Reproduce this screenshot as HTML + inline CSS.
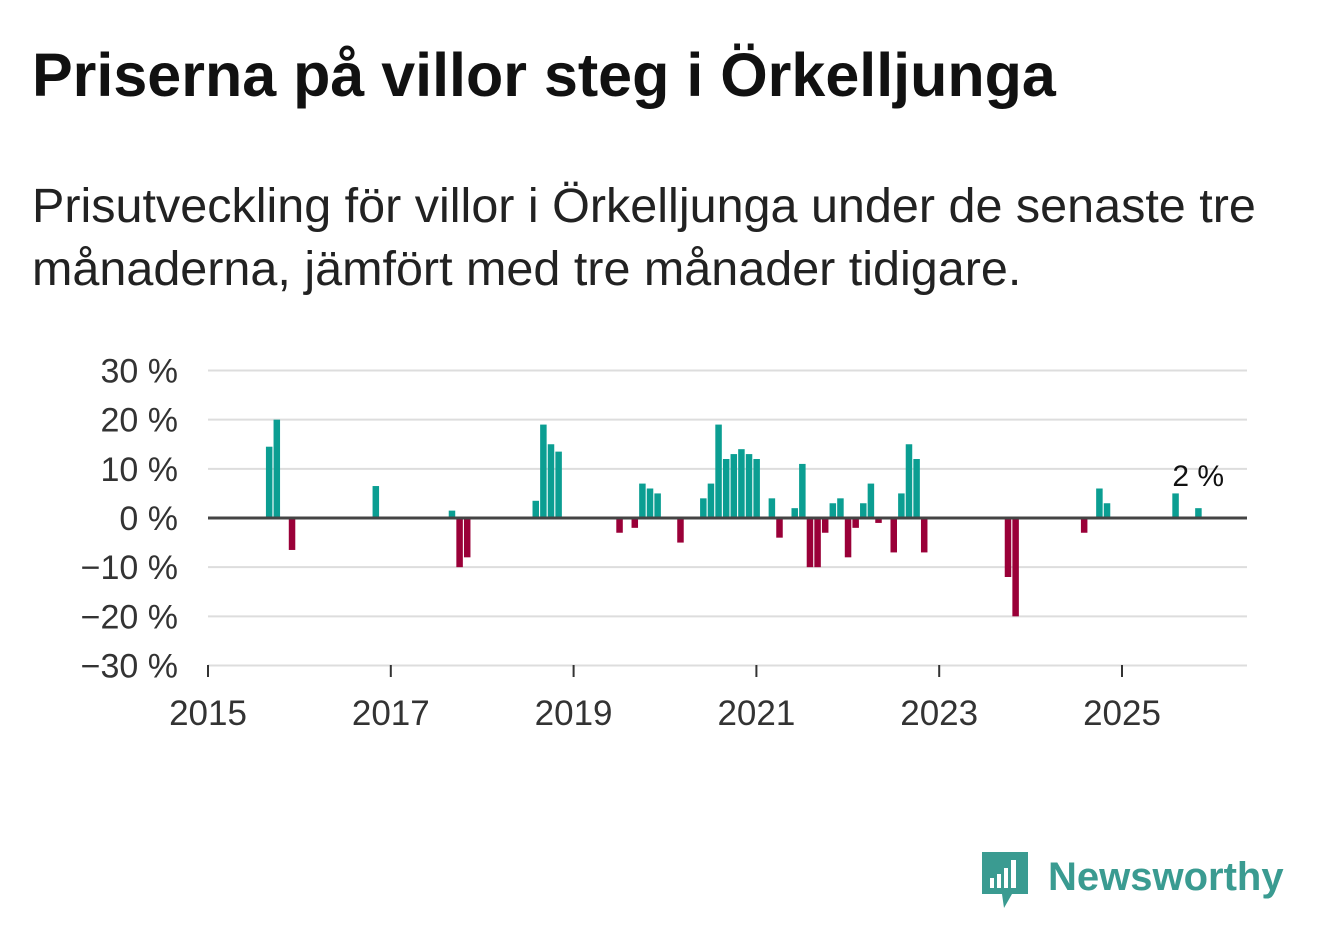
<!DOCTYPE html>
<html><head><meta charset="utf-8"><style>
body{margin:0;width:1322px;height:939px;background:#fff;font-family:"Liberation Sans",sans-serif;overflow:hidden;position:relative}
h1{position:absolute;left:32px;top:40px;margin:0;font-size:61px;font-weight:bold;color:#111;white-space:nowrap}
p{position:absolute;left:32px;top:175px;margin:0;font-size:48.5px;line-height:63px;color:#222;width:1290px;white-space:nowrap}
svg{position:absolute;left:0;top:0}
</style></head><body>
<h1>Priserna på villor steg i Örkelljunga</h1>
<p>Prisutveckling för villor i Örkelljunga under de senaste tre<br>månaderna, jämfört med tre månader tidigare.</p>
<svg id="c" width="1322" height="939"></svg>
<div style="position:absolute;left:982px;top:850px;display:flex;align-items:center">
<svg width="48" height="60" style="position:static"><path d="M0 2h46v42H30l-8 14-2-14H0z" fill="#3a9b91"/><rect x="8" y="28" width="4" height="10" fill="#fff"/><rect x="15" y="24" width="4" height="14" fill="#fff"/><rect x="22" y="18" width="4" height="20" fill="#fff"/><rect x="29" y="10" width="5" height="28" fill="#fff"/></svg>
<span style="font-size:40px;font-weight:bold;color:#3a9b91;margin-left:18px;margin-top:-6px">Newsworthy</span></div>
<script>
const months=[8,9,11,22,32,33,34,43,44,45,46,54,56,57,58,59,62,65,66,67,68,69,70,71,72,74,75,77,78,79,80,81,82,83,84,85,86,87,88,90,91,92,93,94,105,106,115,117,118,127,130];
const values=[14.5,20,-6.5,6.5,1.5,-10,-8,3.5,19,15,13.5,-3,-2,7,6,5,-5,4,7,19,12,13,14,13,12,4,-4,2,11,-10,-10,-3,3,4,-8,-2,3,7,-1,-7,5,15,12,-7,-12,-20,-3,6,3,5,2];
const yTicks=[30,20,10,0,-10,-20,-30];
const yTickLabels=["30 %","20 %","10 %","0 %","−10 %","−20 %","−30 %"];
const xTickYears=[2015,2017,2019,2021,2023,2025];
const lastLabel="2 %";
const svg=document.getElementById('c');const NS='http://www.w3.org/2000/svg';
const X0=208,X1=1247,MW=(1122-208)/120;
const x=m=>X0+m*MW;
const y=v=>518-v*(147.5/30);
function el(t,a,txt){const e=document.createElementNS(NS,t);for(const k in a)e.setAttribute(k,a[k]);if(txt!=null)e.textContent=txt;svg.appendChild(e);return e;}
yTicks.forEach((t,i)=>{
 if(t!==0){const g=el('line',{x1:X0,x2:X1,y1:y(t),y2:y(t),stroke:'#ddd','stroke-width':2});
 
 }
 const l=el('text',{x:178,y:y(t)+12,'text-anchor':'end','font-size':34,fill:'#333','font-family':'Liberation Sans,sans-serif'},yTickLabels[i]);
 
 
});
months.forEach((m,i)=>{const v=values[i];
 const r=el('rect',{x:x(m)-3,y:Math.min(y(v),y(0)),width:6.5,height:Math.abs(y(v)-y(0)),fill:v>=0?'#0b9e92':'#9a0038'});
 
 
});
const z=el('line',{x1:X0,x2:X1,y1:y(0),y2:y(0),stroke:'#444','stroke-width':3});


const ax=el('line',{x1:X0,x2:X1,y1:665,y2:665,stroke:'#ddd','stroke-width':1});


xTickYears.forEach(yr=>{const xx=x((yr-2015)*12);
 const t=el('line',{x1:xx,x2:xx,y1:665,y2:677,stroke:'#333','stroke-width':2});
 
 
 const l=el('text',{x:xx,y:725,'text-anchor':'middle','font-size':35,fill:'#333','font-family':'Liberation Sans,sans-serif'},String(yr));
 
 
});
const lm=months[months.length-1],lv=values[values.length-1];
const ll=el('text',{x:x(lm),y:y(lv)-22,'text-anchor':'middle','font-size':30,fill:'#111','font-family':'Liberation Sans,sans-serif'},lastLabel);


</script>
</body></html>
